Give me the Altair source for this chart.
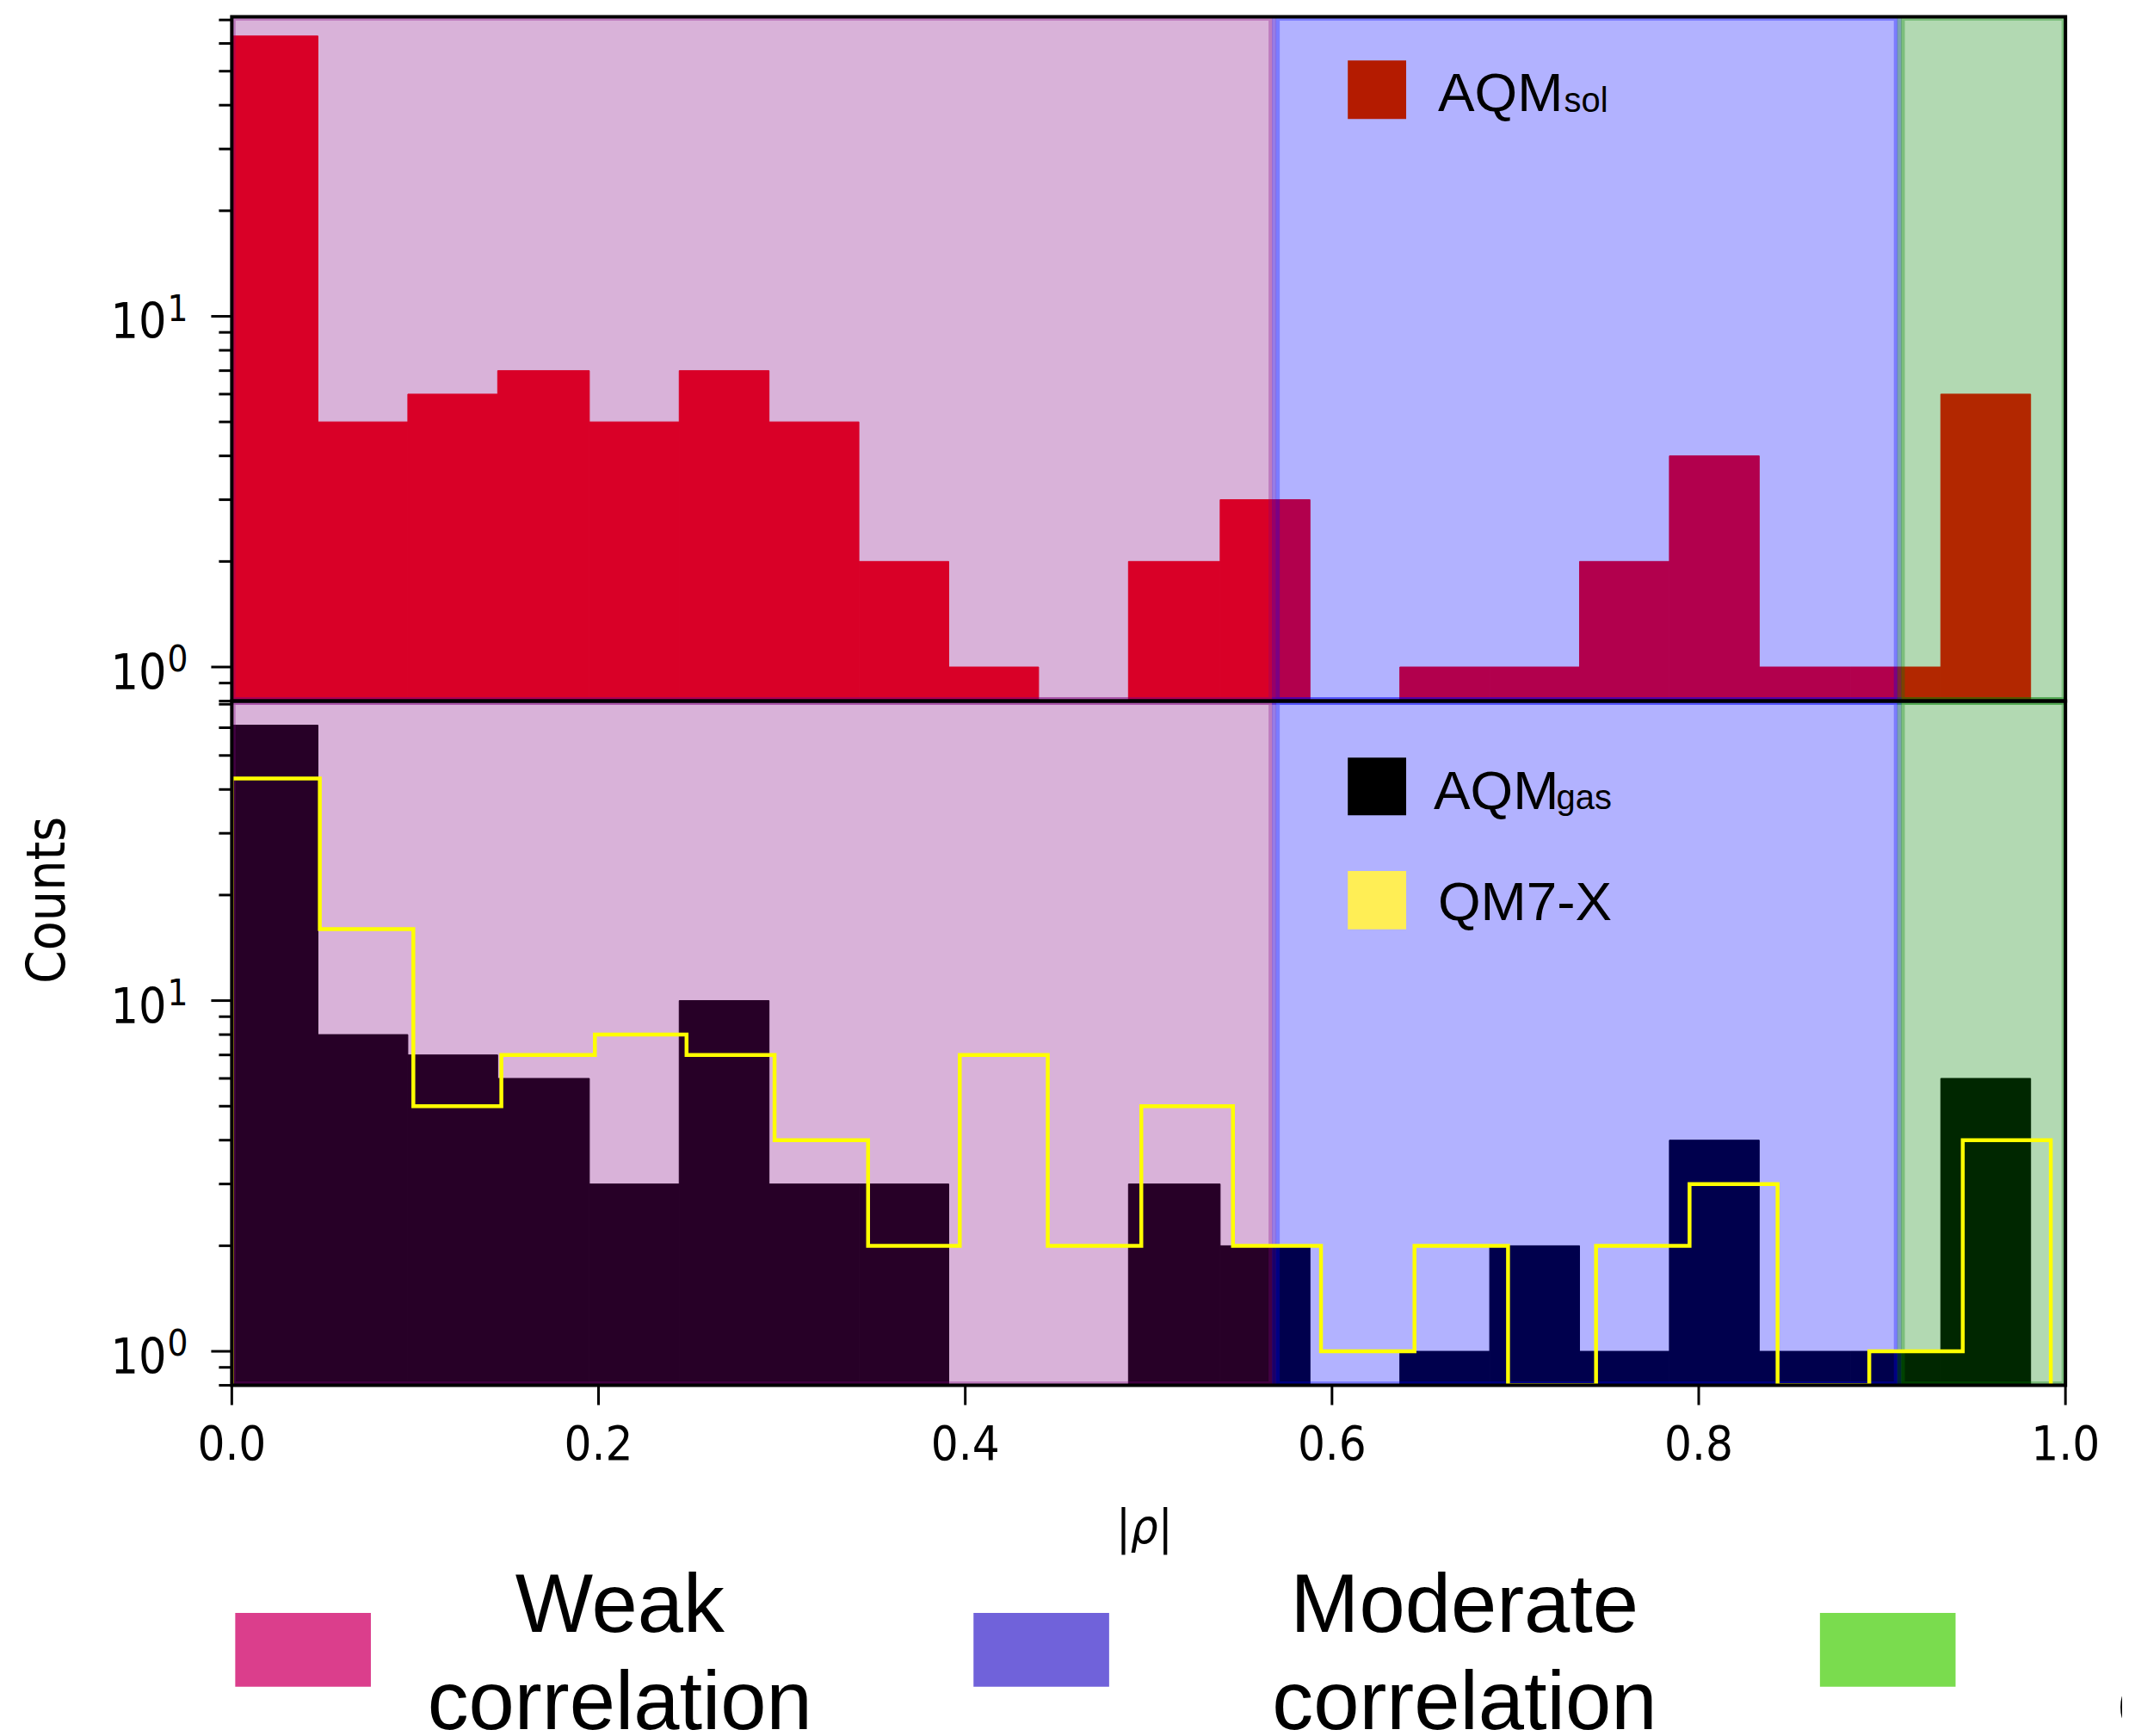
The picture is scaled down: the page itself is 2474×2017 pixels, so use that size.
import altair as alt
import pandas as pd

# ---------------- data ----------------
# shared bin edges of the two AQM histograms
aqm_edges = [0.0, 0.047, 0.096, 0.145, 0.195, 0.244, 0.293, 0.342, 0.391, 0.440,
             0.489, 0.539, 0.588, 0.637, 0.686, 0.735, 0.784, 0.833, 0.883, 0.932, 0.981]
aqm_sol_counts = [63, 5, 6, 7, 5, 7, 5, 2, 1, 0, 2, 3, 0, 1, 1, 2, 4, 1, 1, 6]
aqm_gas_counts = [61, 8, 7, 6, 3, 10, 3, 3, 0, 0, 3, 2, 0, 1, 2, 1, 4, 1, 1, 6]

qm7x_edges = [0.0, 0.048, 0.099, 0.147, 0.198, 0.248, 0.296, 0.347, 0.397, 0.445, 0.496,
              0.546, 0.594, 0.645, 0.696, 0.744, 0.795, 0.843, 0.893, 0.944, 0.992]
qm7x_counts = [43, 16, 5, 7, 8, 7, 4, 2, 7, 2, 5, 2, 1, 2, 0, 2, 3, 0, 1, 4]

region_names = ["Weak", "Moderate", "Strong"]
region_start = [0.0, 0.5694, 0.9103]
region_end = [0.5675, 0.9085, 1.0]
region_fill = ["#800080", "#0000ff", "#008000"]
region_legend_fill = ["#db3e8c", "#7062da", "#7adc4e"]

series_main = ["AQM", "AQM", "QM7-X"]
series_sub = ["sol", "gas", ""]
series_legend_fill = ["#b41b00", "#000000", "#ffee55"]
sol_color = "#ff0000"
gas_color = "#000000"
qm7x_color = "#ffff00"

x_ticks = [0.0, 0.2, 0.4, 0.6, 0.8, 1.0]
y_major = [1, 10]
y_major_exp = ["0", "1"]
y_minor = [0.8, 0.9, 2, 3, 4, 5, 6, 7, 8, 9, 20, 30, 40, 50, 60, 70]
y_domain = [0.8, 71.5]

# ---------------- layout ----------------
W, H = 2136, 1594
HT = 797  # height of the upper panel
TICK_FONT = "DejaVu Sans Condensed, DejaVu Sans"
TEXT_FONT = "Liberation Sans, Arial"
ONE = alt.Data(values=[{}])


def hist_df(edges, counts):
    return pd.DataFrame({"x0": edges[:-1], "x1": edges[1:], "c": counts})


xs, cs = [qm7x_edges[0]], [0]
for i, c in enumerate(qm7x_counts):
    xs += [qm7x_edges[i], qm7x_edges[i + 1]]
    cs += [c, c]
xs.append(qm7x_edges[-1])
cs.append(0)
line_df = pd.DataFrame({"x": xs, "c": cs, "i": list(range(len(xs)))})

regions_df = pd.DataFrame({"name": region_names, "s": region_start, "e": region_end})
minor_df = pd.DataFrame({"v": y_minor})
major_df = pd.DataFrame({"v": y_major, "sup": y_major_exp})
xtick_df = pd.DataFrame({"v": x_ticks})

x_scale = alt.Scale(domain=[0, 1], nice=False, zero=False)
y_top = alt.Scale(type="log", domain=y_domain, range=[HT, 0], nice=False)
y_bot = alt.Scale(type="log", domain=y_domain, range=[H, HT], nice=False)
region_scale = alt.Scale(domain=region_names, range=region_fill)


def bars(df, color, yscale):
    return alt.Chart(df).transform_filter("datum.c > 0").mark_rect(
        color=color, stroke=color, strokeWidth=1, clip=True
    ).encode(
        x=alt.X("x0:Q", scale=x_scale, axis=None),
        x2="x1:Q",
        y=alt.Y("c:Q", scale=yscale, axis=None),
        y2=alt.Y2Datum(y_domain[0]),
    )


def spans():
    return alt.Chart(regions_df).mark_rect(
        fillOpacity=0.3, strokeOpacity=0.3, strokeWidth=9, clip=True
    ).encode(
        x=alt.X("s:Q", scale=x_scale, axis=None),
        x2="e:Q",
        y=alt.YDatum(y_domain[1], axis=None),
        y2=alt.Y2Datum(y_domain[0]),
        color=alt.Color("name:N", scale=region_scale, legend=None),
        stroke=alt.Stroke("name:N", scale=region_scale, legend=None),
    )


def y_ticks_layers():
    minor = alt.Chart(minor_df).mark_rule(color="black", strokeWidth=3).encode(
        x=alt.value(-15), x2=alt.value(0), y=alt.Y("v:Q", axis=None))
    major = alt.Chart(major_df).mark_rule(color="black", strokeWidth=3).encode(
        x=alt.value(-24), x2=alt.value(0), y=alt.Y("v:Q", axis=None))
    base_txt = alt.Chart(major_df).mark_text(
        text="10", font=TICK_FONT, fontSize=57, align="right",
        baseline="alphabetic", dy=26, color="black"
    ).encode(x=alt.value(-76), y=alt.Y("v:Q", axis=None))
    sup_txt = alt.Chart(major_df).mark_text(
        font=TICK_FONT, fontSize=42, align="left", baseline="alphabetic",
        dy=5, color="black"
    ).encode(x=alt.value(-75), y=alt.Y("v:Q", axis=None), text="sup:N")
    return [minor, major, base_txt, sup_txt]


top_panel = alt.layer(
    bars(hist_df(aqm_edges, aqm_sol_counts), sol_color, y_top),
    spans(),
    *y_ticks_layers(),
)

qm7x_line = alt.Chart(line_df).transform_calculate(
    yv="max(datum.c, %s)" % y_domain[0]
).mark_line(color=qm7x_color, strokeWidth=4.5, clip=True).encode(
    x=alt.X("x:Q", scale=x_scale, axis=None),
    y=alt.Y("yv:Q", scale=y_bot, axis=None),
    order="i:Q",
)

bottom_panel = alt.layer(
    bars(hist_df(aqm_edges, aqm_gas_counts), gas_color, y_bot),
    spans(),
    qm7x_line,
    *y_ticks_layers(),
)

x_tick_marks = alt.Chart(xtick_df).mark_rule(color="black", strokeWidth=3).encode(
    x=alt.X("v:Q", scale=x_scale, axis=None), y=alt.value(H), y2=alt.value(H + 23))
x_tick_labels = alt.Chart(xtick_df).mark_text(
    font=TICK_FONT, fontSize=56, align="center", baseline="alphabetic", color="black"
).encode(x=alt.X("v:Q", scale=x_scale, axis=None), y=alt.value(1681),
         text=alt.Text("v:Q", format=".1f"))


def frame_rect(y0, y1):
    return alt.Chart(ONE).mark_rect(fillOpacity=0, stroke="black", strokeWidth=4).encode(
        x=alt.value(0), x2=alt.value(W), y=alt.value(y0), y2=alt.value(y1))


def patch(x0, x1, y0, y1, color):
    return alt.Chart(ONE).mark_rect(color=color).encode(
        x=alt.value(x0), x2=alt.value(x1), y=alt.value(y0), y2=alt.value(y1))


def label(txt, x, y, size, font=TEXT_FONT, align="left", baseline="alphabetic",
          angle=0, style="normal"):
    return alt.Chart(ONE).mark_text(
        text=txt, font=font, fontSize=size, align=align, baseline=baseline,
        angle=angle, fontStyle=style, color="black"
    ).encode(x=alt.value(x), y=alt.value(y))


annotations = [
    frame_rect(0, HT),
    frame_rect(HT, H),
    x_tick_marks,
    x_tick_labels,
    # series legends
    patch(1300, 1368, 51, 119, series_legend_fill[0]),
    label(series_main[0], 1405, 110, 64),
    label(series_sub[0], 1552, 111, 40),
    patch(1300, 1368, 863, 930, series_legend_fill[1]),
    label(series_main[1], 1400, 923, 64),
    label(series_sub[1], 1543, 923, 40),
    patch(1300, 1368, 995, 1063, series_legend_fill[2]),
    label(series_main[2], 1405, 1052, 64),
    # axis titles
    label("Counts", -214, 1029, 62, font=TICK_FONT, align="center",
          baseline="middle", angle=270),
    label("|ρ|", 1063, 1761, 56, font=TICK_FONT, align="center",
          baseline="middle", style="italic"),
]

# correlation-strength legend under the plot
legend_x0 = [4, 864, 1850]
legend_text_x = [452, 1436, 2420]
for k in range(3):
    annotations += [
        patch(legend_x0[k], legend_x0[k] + 158, 1859, 1945, region_legend_fill[k]),
        label(region_names[k], legend_text_x[k], 1881, 96, align="center"),
        label("correlation", legend_text_x[k], 1994, 96, align="center"),
    ]

chart = alt.layer(top_panel, bottom_panel, *annotations).resolve_scale(
    y="independent"
).properties(
    width=W, height=H,
    autosize=alt.AutoSizeParams(type="none"),
    padding={"left": 262, "top": 9, "right": 66, "bottom": 404},
).configure_view(strokeWidth=0)

chart.save("out.html", embed_options={"renderer": "svg", "actions": False})
